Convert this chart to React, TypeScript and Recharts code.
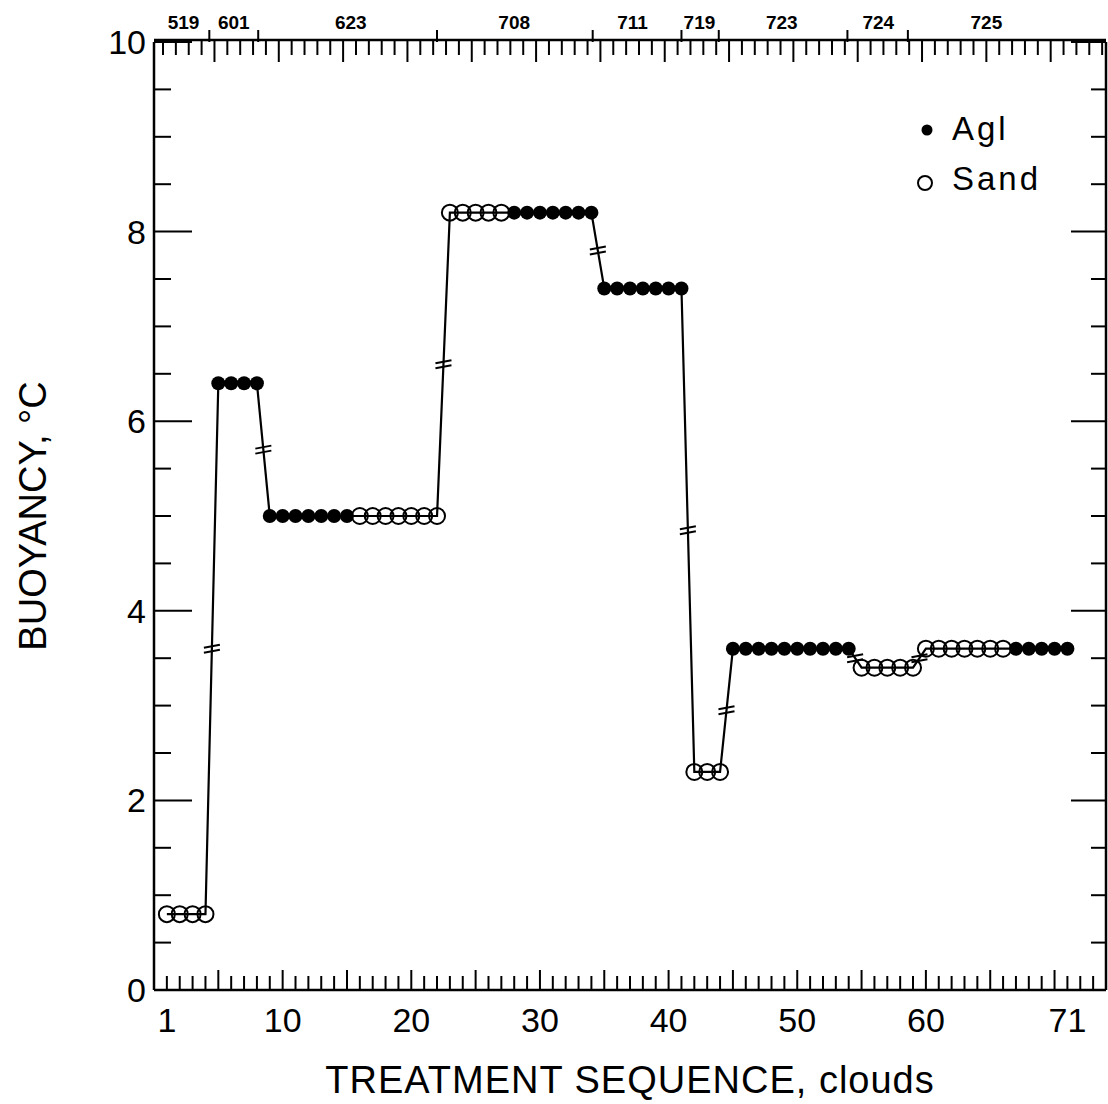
import React from 'react';
import { ComposedChart, Line, Scatter, XAxis, YAxis, Legend, Label } from 'recharts';

// treatment sequence (cloud number in sequence) and buoyancy, deg C
const clouds = [
  1, 2, 3, 4, 5, 6, 7, 8, 9, 10, 11, 12, 13, 14, 15, 16, 17, 18, 19, 20,
  21, 22, 23, 24, 25, 26, 27, 28, 29, 30, 31, 32, 33, 34, 35, 36, 37, 38, 39, 40,
  41, 42, 43, 44, 45, 46, 47, 48, 49, 50, 51, 52, 53, 54, 55, 56, 57, 58, 59, 60,
  61, 62, 63, 64, 65, 66, 67, 68, 69, 70, 71,
];
const buoyancy = [
  0.8, 0.8, 0.8, 0.8, 6.4, 6.4, 6.4, 6.4, 5.0, 5.0, 5.0, 5.0, 5.0, 5.0, 5.0, 5.0, 5.0, 5.0, 5.0, 5.0,
  5.0, 5.0, 8.2, 8.2, 8.2, 8.2, 8.2, 8.2, 8.2, 8.2, 8.2, 8.2, 8.2, 8.2, 7.4, 7.4, 7.4, 7.4, 7.4, 7.4,
  7.4, 2.3, 2.3, 2.3, 3.6, 3.6, 3.6, 3.6, 3.6, 3.6, 3.6, 3.6, 3.6, 3.6, 3.4, 3.4, 3.4, 3.4, 3.4, 3.6,
  3.6, 3.6, 3.6, 3.6, 3.6, 3.6, 3.6, 3.6, 3.6, 3.6, 3.6,
];
// A = AgI, S = sand
const treatment = [
  'S', 'S', 'S', 'S', 'A', 'A', 'A', 'A', 'A', 'A', 'A', 'A', 'A', 'A', 'A', 'S', 'S', 'S', 'S', 'S',
  'S', 'S', 'S', 'S', 'S', 'S', 'S', 'A', 'A', 'A', 'A', 'A', 'A', 'A', 'A', 'A', 'A', 'A', 'A', 'A',
  'A', 'S', 'S', 'S', 'A', 'A', 'A', 'A', 'A', 'A', 'A', 'A', 'A', 'A', 'S', 'S', 'S', 'S', 'S', 'S',
  'S', 'S', 'S', 'S', 'S', 'S', 'A', 'A', 'A', 'A', 'A',
];

// break marks on the connecting line between cases
const breakX = [4.5, 8.5, 22.5, 34.5, 41.5, 44.5, 54.5, 59.5];
const breakY = [3.6, 5.7, 6.6, 7.8, 4.85, 2.95, 3.5, 3.5];

// case (day) labels along the top
const caseNames = ['519', '601', '623', '708', '711', '719', '723', '724', '725'];
const caseCenters = [2.3, 6.2, 15.3, 28, 37.2, 42.4, 48.8, 56.3, 64.7];
const caseBounds = [4.3, 8.1, 22, 34.1, 41, 43.9, 53.9, 58.6];

const xLabelTicks = [1, 10, 20, 30, 40, 50, 60, 71];
const yLabelTicks = [0, 2, 4, 6, 8, 10];
const legendNames = ['Agl', 'Sand'];

const FONT = '"Liberation Sans", Arial, sans-serif';

const table = clouds.map((c, i) => ({ x: c, y: buoyancy[i] }));
const aglPts = table.filter((_, i) => treatment[i] === 'A');
const sandPts = table.filter((_, i) => treatment[i] === 'S');
const breakPts = breakX.map((x, i) => ({ x, y: breakY[i] }));

const xMinor = Array.from({ length: 74 }, (_, i) => i + 1);
const xTopMinor = Array.from({ length: 74 }, (_, i) => i + 0.7);
const yMinor = Array.from({ length: 21 }, (_, i) => i / 2);

const BottomTick = (p: any) => {
  const v = p.payload.value;
  const len = v % 5 === 0 ? 20 : 14;
  return (
    <g>
      <line x1={p.x} x2={p.x} y1={p.y} y2={p.y - len} stroke="#000" strokeWidth={2} />
      {xLabelTicks.includes(v) && (
        <text x={p.x} y={p.y + 42} textAnchor="middle" fontSize={34} fontFamily={FONT} fill="#000">
          {v}
        </text>
      )}
    </g>
  );
};

const TopTick = (p: any) => {
  const v = Math.round(p.payload.value + 0.3);
  const len = v % 5 === 0 ? 22 : 15;
  return <line x1={p.x} x2={p.x} y1={p.y} y2={p.y + len} stroke="#000" strokeWidth={2} />;
};

const CaseTick = (p: any) => (
  <text x={p.x} y={p.y - 13} textAnchor="middle" fontSize={19} fontWeight="bold" fontFamily={FONT} fill="#000">
    {caseNames[p.index]}
  </text>
);

const BoundTick = (p: any) => (
  <line x1={p.x} x2={p.x} y1={p.y + 1} y2={p.y - 11} stroke="#000" strokeWidth={2} />
);

const LeftTick = (p: any) => {
  const v = p.payload.value;
  const major = yLabelTicks.includes(v);
  return (
    <g>
      <line x1={p.x} x2={p.x + (major ? 38 : 17)} y1={p.y} y2={p.y} stroke="#000" strokeWidth={2} />
      {major && (
        <text x={p.x - 8} y={p.y + 12} textAnchor="end" fontSize={34} fontFamily={FONT} fill="#000">
          {v}
        </text>
      )}
    </g>
  );
};

const RightTick = (p: any) => {
  const v = p.payload.value;
  const major = yLabelTicks.includes(v);
  return <line x1={p.x} x2={p.x - (major ? 35 : 15)} y1={p.y} y2={p.y} stroke="#000" strokeWidth={2} />;
};

const BreakMark = (p: any) => (
  <g stroke="#000" strokeWidth={2}>
    <line x1={p.cx - 8} y1={p.cy - 1} x2={p.cx + 8} y2={p.cy - 4} />
    <line x1={p.cx - 8} y1={p.cy + 4} x2={p.cx + 8} y2={p.cy + 1} />
  </g>
);

const LegendBox = () => (
  <svg width={160} height={100}>
    <circle cx={22} cy={25} r={5.5} fill="#000" />
    <text x={47} y={35} fontSize={33} letterSpacing={3} fontFamily={FONT} fill="#000">{legendNames[0]}</text>
    <circle cx={20} cy={78} r={7} fill="none" stroke="#000" strokeWidth={2} />
    <text x={47} y={85} fontSize={33} letterSpacing={3} fontFamily={FONT} fill="#000">{legendNames[1]}</text>
  </svg>
);

const XTitle = (p: any) => {
  const vb = p.viewBox || { x: 153, y: 990, width: 953 };
  return (
    <text x={vb.x + vb.width / 2} y={vb.y + 103} textAnchor="middle" fontSize={38} letterSpacing={1} fontFamily={FONT} fill="#000">
      TREATMENT SEQUENCE, clouds
    </text>
  );
};

const YTitle = (p: any) => {
  const vb = p.viewBox || { x: 152, y: 42, height: 948 };
  const cx = vb.x - 107;
  const cy = vb.y + vb.height / 2;
  return (
    <text x={cx} y={cy} transform={`rotate(-90, ${cx}, ${cy})`} textAnchor="middle" fontSize={38} fontFamily={FONT} fill="#000">
      BUOYANCY, °C
    </text>
  );
};

const App: React.FC = () => {
  return (
    <div style={{ position: 'absolute', left: 0, top: 0, width: 1108, height: 1104, background: '#fff' }}>
      <ComposedChart width={1108} height={1104} data={table} margin={{ top: 39, left: 153, right: 1, bottom: 113 }}>
        <XAxis
          xAxisId="b" type="number" dataKey="x" domain={[0, 74]} allowDataOverflow ticks={xMinor} interval={0}
          height={1} tickSize={0} tickMargin={0} tickLine={false} tick={BottomTick}
          axisLine={{ stroke: '#000', strokeWidth: 2.5 }}
        >
          <Label content={XTitle} />
        </XAxis>
        <XAxis
          xAxisId="t" orientation="top" type="number" dataKey="x" domain={[0, 74]} allowDataOverflow ticks={xTopMinor}
          interval={0} height={1} tickSize={0} tickMargin={0} tickLine={false} tick={TopTick}
          axisLine={{ stroke: '#000', strokeWidth: 2.5 }}
        />
        <XAxis
          xAxisId="c" orientation="top" type="number" dataKey="x" domain={[0, 74]} allowDataOverflow ticks={caseCenters}
          interval={0} height={1} tickSize={0} tickMargin={0} tickLine={false} axisLine={false} tick={CaseTick}
        />
        <XAxis
          xAxisId="m" orientation="top" type="number" dataKey="x" domain={[0, 74]} allowDataOverflow ticks={caseBounds}
          interval={0} height={1} tickSize={0} tickMargin={0} tickLine={false} axisLine={false} tick={BoundTick}
        />
        <YAxis
          yAxisId="l" type="number" dataKey="y" domain={[0, 10]} allowDataOverflow ticks={yMinor} interval={0}
          width={1} tickSize={0} tickMargin={0} tickLine={false} tick={LeftTick}
          axisLine={{ stroke: '#000', strokeWidth: 2.5 }}
        >
          <Label content={YTitle} />
        </YAxis>
        <YAxis
          yAxisId="r" orientation="right" type="number" dataKey="y" domain={[0, 10]} allowDataOverflow ticks={yMinor}
          interval={0} width={1} tickSize={0} tickMargin={0} tickLine={false} tick={RightTick}
          axisLine={{ stroke: '#000', strokeWidth: 2.5 }}
        />
        <Line
          xAxisId="b" yAxisId="l" type="linear" dataKey="y" stroke="#000" strokeWidth={2.2} dot={false}
          isAnimationActive={false} legendType="none"
        />
        <Scatter
          xAxisId="b" yAxisId="l" name="Sand" data={sandPts} dataKey="y" isAnimationActive={false}
          shape={(p: any) => <circle cx={p.cx} cy={p.cy} r={8} fill="none" stroke="#000" strokeWidth={2} />}
        />
        <Scatter
          xAxisId="b" yAxisId="l" name="Agl" data={aglPts} dataKey="y" isAnimationActive={false}
          shape={(p: any) => <circle cx={p.cx} cy={p.cy} r={7} fill="#000" />}
        />
        <Scatter
          xAxisId="b" yAxisId="l" data={breakPts} dataKey="y" isAnimationActive={false} legendType="none"
          shape={BreakMark}
        />
        <Legend
          content={LegendBox} layout="horizontal" verticalAlign="middle" align="center"
          wrapperStyle={{ position: 'absolute', left: 905, top: 105, width: 160, height: 100 }}
        />
      </ComposedChart>
    </div>
  );
};

export default App;
